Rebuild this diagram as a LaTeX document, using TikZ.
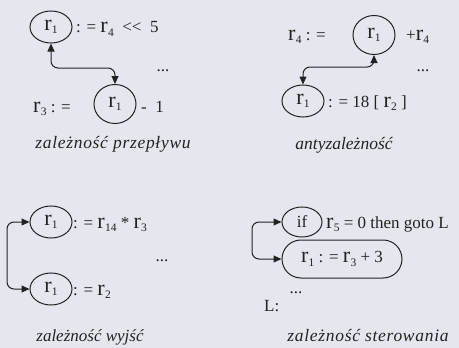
\documentclass[tikz,border=0pt]{standalone}
\usepackage{fontspec}
\setmainfont{Liberation Serif}
\usetikzlibrary{arrows.meta,shapes.geometric}
\definecolor{bg}{HTML}{E4E8EE}
\definecolor{ink}{HTML}{222222}
\newcommand{\rs}[1]{\scalebox{1.3}{r}\kern0.3pt\raisebox{-3.5pt}{\fontsize{11.5}{11.5}\selectfont #1}}
\begin{document}
\begin{tikzpicture}[x=1pt,y=-1pt,
  every node/.style={font=\fontsize{17}{20}\selectfont, text=ink},
  reg/.style={ellipse, draw=ink, line width=1pt, inner sep=0pt, minimum width=42pt, minimum height=32pt},
  big/.style={reg, minimum height=39pt},
  txt/.style={anchor=base west, inner sep=0pt},
  dts/.style={anchor=base, inner sep=0pt},
  capt/.style={anchor=base, inner sep=0pt, font=\fontsize{17.5}{20}\selectfont\itshape\addfontfeature{LetterSpace=4}},
  dep/.style={{Triangle[length=8pt,width=7pt]}-{Triangle[length=8pt,width=7pt]}, draw=ink, line width=1pt, rounded corners=7pt}]
\fill[bg] (0,0) rectangle (459,348);
\useasboundingbox (0,0) rectangle (459,348);
% panel 1: zaleznosc przeplywu
\node[reg] (c1) at (51,27) {\rs{1}};
\node[txt] (t1) at (76,33) {: = \rs{4} \ {<}{<} \ 5};
\node[dts] (d1) at (163,71) {...};
\node[txt] (t2) at (33,112) {\rs{3} : =};
\node[big] (c2) at (115,104) {\rs{1}};
\node[txt] (t3) at (141,112) {- \ 1};
\node[capt] (k1) at (113,148) {zależność przepływu};
\coordinate (m1) at (80,68);
\draw[dep] (c1.south) |- (m1) -| (c2.north);
% panel 2: antyzaleznosc
\node[txt] (t4) at (288,40) {\rs{4} : =};
\node[big] (c3) at (374,35) {\rs{1}};
\node[txt] (t5) at (406,40) {+\rs{4}};
\node[dts] (d2) at (423,71) {...};
\node[reg] (c4) at (303,101) {\rs{1}};
\node[txt] (t6) at (328,107) {: = 18 [ \rs{2} ]};
\node[capt, font=\fontsize{17.5}{20}\selectfont\itshape] (k2) at (344,149) {antyzależność};
\coordinate (m2) at (340,67);
\draw[dep] (c3.south) |- (m2) -| (c4.north);
% panel 3: zaleznosc wyjsc
\node[reg] (c5) at (51,222) {\rs{1}};
\node[txt] (t7) at (73,228) {: = \rs{14} * \rs{3}};
\node[dts] (d3) at (162,261) {...};
\node[reg] (c6) at (51,289) {\rs{1}};
\node[txt] (t8) at (73,295) {: = \rs{2}};
\node[capt, font=\fontsize{17}{20}\selectfont\itshape] (k3) at (90,341) {zależność wyjść};
\coordinate (m3) at (7,255);
\draw[dep] (c5.west) -| (m3) |- (c6.west);
% panel 4: zaleznosc sterowania
\node[reg, minimum width=40pt, minimum height=30pt] (c7) at (302,222) {if};
\node[txt] (t9) at (326,228) {\rs{5} = 0 then goto L};
\node[draw=ink, line width=1pt, rounded corners=19pt, minimum width=120pt, minimum height=38pt, inner sep=0pt] (s1) at (342,259) {\rs{1} : = \rs{3} + 3};
\node[dts] (d4) at (296,293) {...};
\node[txt] (lab) at (264,311) {L:};
\node[capt] (k4) at (368,341) {zależność sterowania};
\coordinate (m4) at (252,240);
\draw[dep] (c7.west) -| (m4) |- (s1.west);
\end{tikzpicture}
\end{document}
